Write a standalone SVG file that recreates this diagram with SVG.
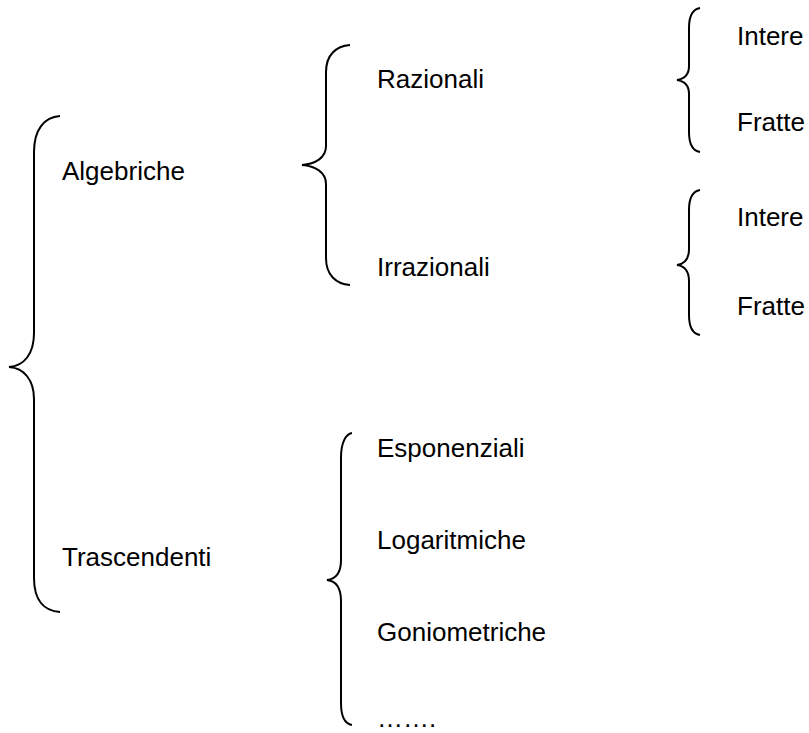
<svg xmlns="http://www.w3.org/2000/svg" width="809" height="733" viewBox="0 0 809 733">
<style>
.t{font-family:"Liberation Sans",Arial,sans-serif;font-size:26px;fill:#000}
.b{fill:none;stroke:#000;stroke-width:2}
</style>
<rect width="809" height="733" fill="#fff"/>
<g id="connectors">
<path class="b" d="M60,116 C44,117 34,130 34,152 L34,333 C34,354 24,366 9,367 C24,368 34,380 34,399 L34,578 C34,600 44,611 60,612"/>
<path class="b" d="M350,45 C336,46 326,55 326,72 L326,146 C326,158 315,164 302,165 C315,166 326,172 326,184 L326,258 C326,275 336,284 350,285"/>
<path class="b" d="M700,8 C694,9 689,14 689,28 L689,66 C689,75 684,79 677,80 C684,81 689,85 689,94 L689,132 C689,146 694,151 700,152"/>
<path class="b" d="M700,190 C694,191 689,196 689,210 L689,249 C689,259 684,264 677,265 C684,266 689,271 689,281 L689,315 C689,329 694,334 700,335"/>
<path class="b" d="M352,433 C346,434 341,442 341,458 L341,560 C341,573 336,579 327,580 C336,581 341,588 341,601 L341,703 C341,718 346,724 352,725"/>
</g>
<g id="n-algebriche"><text class="t" x="62" y="180">Algebriche</text></g>
<g id="n-trascendenti"><text class="t" x="62" y="566">Trascendenti</text></g>
<g id="n-razionali"><text class="t" x="377" y="88">Razionali</text></g>
<g id="n-irrazionali"><text class="t" x="377" y="276">Irrazionali</text></g>
<g id="n-intere1"><text class="t" x="737" y="45">Intere</text></g>
<g id="n-fratte1"><text class="t" x="737" y="131">Fratte</text></g>
<g id="n-intere2"><text class="t" x="737" y="226">Intere</text></g>
<g id="n-fratte2"><text class="t" x="737" y="315">Fratte</text></g>
<g id="n-esponenziali"><text class="t" x="377" y="457">Esponenziali</text></g>
<g id="n-logaritmiche"><text class="t" x="377" y="549">Logaritmiche</text></g>
<g id="n-goniometriche"><text class="t" x="377" y="641">Goniometriche</text></g>
<g id="n-dots"><text class="t" x="377" y="727">…….</text></g>
</svg>
